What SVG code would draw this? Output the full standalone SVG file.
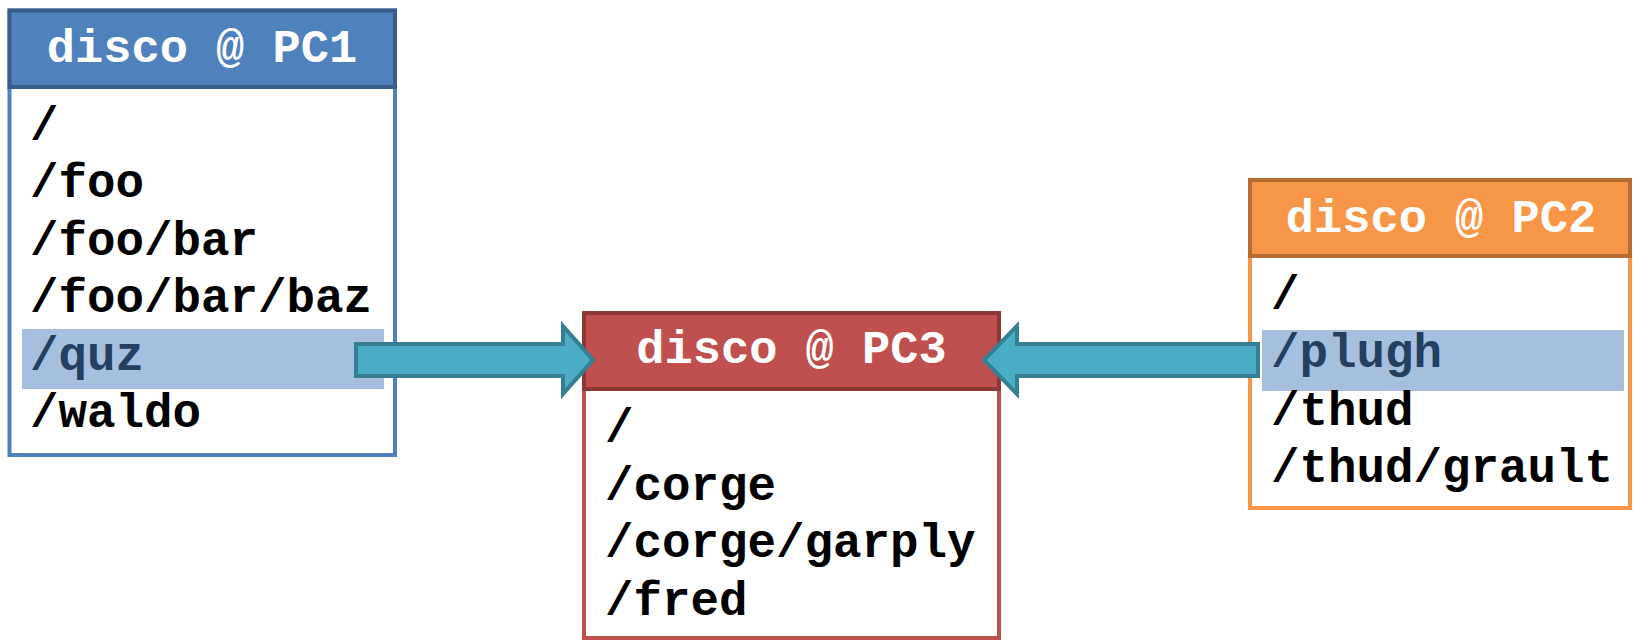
<svg xmlns="http://www.w3.org/2000/svg" width="1634" height="640" viewBox="0 0 1634 640">
  <style>
    .body { fill: #ffffff; stroke-width: 4; }
    .head { stroke-width: 4; }
    .title { font-family: "Liberation Mono", "Courier New", monospace; font-weight: bold; font-size: 47px; fill: #ffffff; text-anchor: middle; }
    .path { font-family: "Liberation Mono", "Courier New", monospace; font-weight: bold; font-size: 47.5px; fill: #000000; }
    .sel { fill: #a7bfde; }
    .path.hl { fill: #243f60; }
    .arrow { fill: #4bacc6; stroke: #357f92; stroke-width: 4; stroke-linejoin: miter; }
  </style>

  <!-- disk on PC1 -->
  <g id="pc1">
    <rect class="body" x="9.5" y="10.5" width="385.5" height="444.5" stroke="#4f81bd"/>
    <rect class="head" x="9.5" y="10.5" width="385.5" height="76.5" fill="#4f81bd" stroke="#385d8a"/>
    <text class="title" x="202" y="62">disco @ PC1</text>
    <rect class="sel" x="22" y="329" width="362" height="60"/>
    <text class="path" x="30" y="140">/</text>
    <text class="path" x="30" y="197">/foo</text>
    <text class="path" x="30" y="255">/foo/bar</text>
    <text class="path" x="30" y="312">/foo/bar/baz</text>
    <text class="path hl" x="30" y="370">/quz</text>
    <text class="path" x="30" y="427">/waldo</text>
  </g>

  <!-- disk on PC3 -->
  <g id="pc3">
    <rect class="body" x="584" y="313" width="415" height="325" stroke="#c0504d"/>
    <rect class="head" x="584" y="313" width="415" height="76" fill="#c0504d" stroke="#8c3836"/>
    <text class="title" x="791.5" y="363">disco @ PC3</text>
    <text class="path" x="605" y="442">/</text>
    <text class="path" x="605" y="500">/corge</text>
    <text class="path" x="605" y="557">/corge/garply</text>
    <text class="path" x="605" y="615">/fred</text>
  </g>

  <!-- disk on PC2 -->
  <g id="pc2">
    <rect class="body" x="1250" y="180" width="380" height="328" stroke="#f79646"/>
    <rect class="head" x="1250" y="180" width="380" height="76" fill="#f79646" stroke="#b66d31"/>
    <text class="title" x="1441" y="232">disco @ PC2</text>
    <rect class="sel" x="1262" y="330" width="362" height="61"/>
    <text class="path" x="1271" y="309">/</text>
    <text class="path hl" x="1271" y="367">/plugh</text>
    <text class="path" x="1271" y="425">/thud</text>
    <text class="path" x="1271" y="482">/thud/grault</text>
  </g>

  <!-- copy arrows into PC3 -->
  <g id="connectors">
    <polygon class="arrow" points="356,344 563,344 563,326 593,360 563,394 563,376 356,376"/>
    <polygon class="arrow" points="1258,344 1017,344 1017,326 984,360 1017,394 1017,376 1258,376"/>
  </g>
</svg>
